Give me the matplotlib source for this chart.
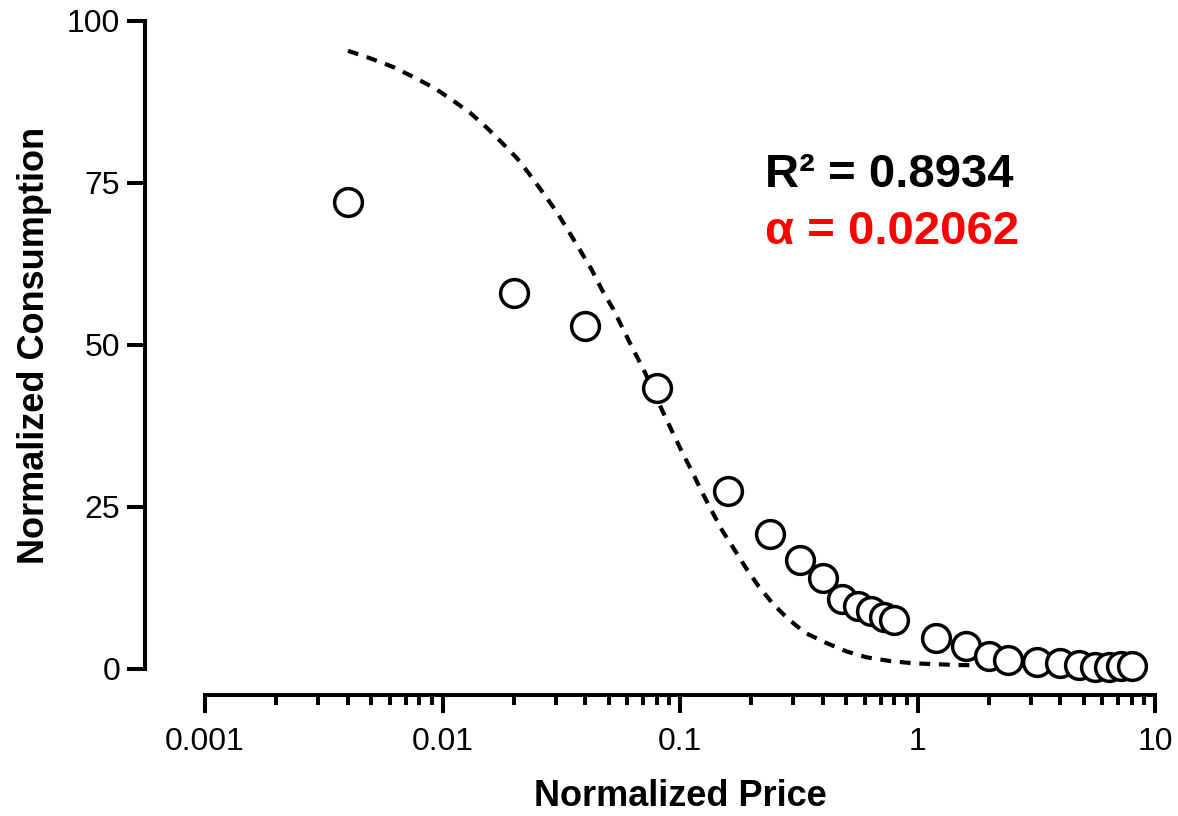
import numpy as np
import matplotlib
matplotlib.use('Agg')
import matplotlib.pyplot as plt

plt.rcParams['font.family'] = ['Liberation Sans', 'DejaVu Sans']

# observed consumption vs. normalized price
price = [0.004, 0.02, 0.04, 0.08, 0.16, 0.24, 0.32, 0.40, 0.48, 0.56, 0.64, 0.72,
         0.80, 1.2, 1.6, 2.0, 2.4, 3.2, 4.0, 4.8, 5.6, 6.4, 7.2, 8.0]
consumption = [72.0, 58.0, 53.0, 43.3, 27.4, 20.9, 16.8, 14.0, 10.8, 9.7, 8.9, 8.1,
               7.5, 4.8, 3.5, 2.0, 1.4, 1.1, 1.0, 0.6, 0.3, 0.3, 0.4, 0.4]

# fitted demand curve
fit_price = [0.004, 0.005, 0.0062, 0.0075, 0.0092, 0.0109, 0.0131, 0.0153, 0.0177,
             0.0205, 0.0233, 0.0265, 0.0303, 0.0339, 0.038, 0.0425, 0.0468, 0.0524,
             0.0577, 0.0635, 0.0701, 0.0837, 0.0923, 0.1016, 0.112, 0.123, 0.136,
             0.151, 0.171, 0.191, 0.214, 0.247, 0.286, 0.336, 0.408, 0.504, 0.611,
             0.766, 0.96, 1.21, 1.46, 2.0, 3.0, 4.5, 6.0, 8.0]
fit_consumption = [95.4, 94.2, 92.9, 91.4, 89.7, 87.9, 85.8, 83.6, 81.3,
                   78.9, 76.3, 73.5, 70.5, 67.6, 64.6, 61.6, 58.6, 55.5,
                   52.4, 49.3, 46.3, 40.1, 36.8, 33.6, 30.6, 27.5, 24.4,
                   21.3, 18.2, 15.4, 12.8, 10.0, 7.7, 5.6, 4.1, 2.7, 1.8,
                   1.23, 0.88, 0.73, 0.62, 0.55, 0.52, 0.5, 0.5, 0.5]

r2 = 0.8934
alpha = 0.02062

fig = plt.figure(figsize=(11.78, 8.16), dpi=100)
ax = fig.add_axes([205/1178, 147/816, 950/1178, 648/816])

ax.plot(fit_price, fit_consumption, color='black', lw=3.0, linestyle=(0, (2.6, 2.1)),
        clip_on=False, zorder=2)
ax.plot(price, consumption, 'o', ms=20, mfc='white', mec='black', mew=2.5,
        clip_on=False, zorder=3)

ax.set_xscale('log')
ax.set_xlim(0.001, 10)
ax.set_ylim(0, 100)
ax.set_yticks([0, 25, 50, 75, 100])
ax.set_xticks([0.001, 0.01, 0.1, 1, 10])
ax.set_xticklabels(['0.001', '0.01', '0.1', '1', '10'])

for side in ['top', 'right']:
    ax.spines[side].set_visible(False)
ax.spines['left'].set_position(('outward', 43))
ax.spines['bottom'].set_position(('outward', 18.5))
for side in ['left', 'bottom']:
    ax.spines[side].set_linewidth(2.9)
    ax.spines[side].set_capstyle('projecting')

ax.tick_params(which='major', length=13, width=2.9, labelsize=23)
ax.tick_params(which='minor', length=7, width=2.9)
ax.tick_params(axis='x', which='both', pad=10)
ax.tick_params(axis='y', pad=5)
ax.tick_params(axis='y', which='minor', left=False)

ax.set_xlabel('Normalized Price', fontsize=26, fontweight='bold', labelpad=16)
ax.set_ylabel('Normalized Consumption', fontsize=26, fontweight='bold', labelpad=11)

ax.text(0.589, 0.763, f'R² = {r2:.4f}', transform=ax.transAxes, fontsize=34,
        fontweight='bold', color='black', va='center', ha='left')
ax.text(0.589, 0.675, f'α = {alpha:.5f}', transform=ax.transAxes, fontsize=34,
        fontweight='bold', color='#ff0000', va='center', ha='left')

fig.savefig('out.png', dpi=100)
